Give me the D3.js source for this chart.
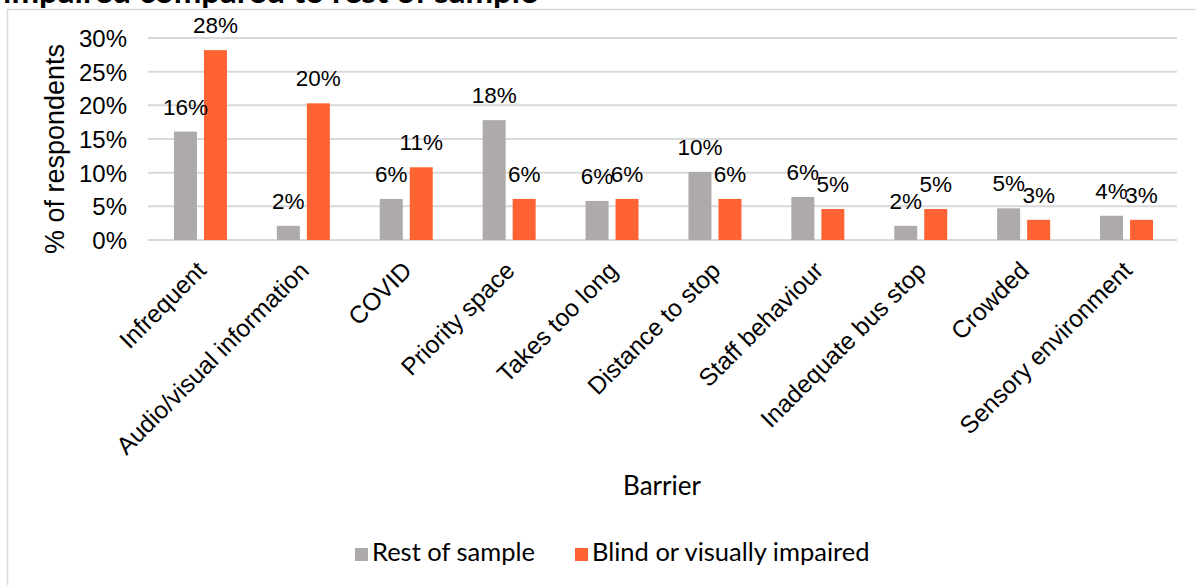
<!DOCTYPE html>
<html>
<head>
<meta charset="utf-8">
<script src="https://cdn.jsdelivr.net/npm/d3@7"></script>
<style>
  html, body { margin: 0; padding: 0; background: #fff; }
  svg { display: block; }
</style>
</head>
<body>
<svg id="chart" width="1196" height="585"></svg>
<script>
const titleText = "impaired compared to rest of sample";
const categories = ["Infrequent", "Audio/visual information", "COVID", "Priority space", "Takes too long",
  "Distance to stop", "Staff behaviour", "Inadequate bus stop", "Crowded", "Sensory environment"];
const seriesNames = ["Rest of sample", "Blind or visually impaired"];
const restValues  = [16.1, 2.1, 6.1, 17.8, 5.8, 10.1, 6.4, 2.1, 4.7, 3.6];
const blindValues = [28.2, 20.3, 10.8, 6.1, 6.1, 6.1, 4.6, 4.6, 3.0, 3.0];
const yTicks = [0, 5, 10, 15, 20, 25, 30];
const seriesColors = ["#AEAAAA", "#FF6333"];
const xAxisTitle = "Barrier";
const yAxisTitle = "% of respondents";

const svg = d3.select("#chart");
const W = 1196, H = 585;
const plot = { left: 148, right: 1177, top: 38, bottom: 240 };

// frame
svg.append("path")
  .attr("d", `M7.5,${H} L7.5,9.5 L${W},9.5`)
  .attr("fill", "none").attr("stroke", "#D9D9D9").attr("stroke-width", 1.5);

// title (partially cut off at top)
svg.append("text")
  .attr("x", 3).attr("y", 3)
  .attr("font-family", "Lato, 'Liberation Sans', sans-serif")
  .attr("font-weight", "bold").attr("font-size", 33)
  .attr("fill", "#000")
  .text(titleText);

const y = d3.scaleLinear().domain([0, 30]).range([plot.bottom, plot.top]);
const x0 = d3.scaleBand().domain(categories).range([plot.left + 1, plot.right + 1]).padding(0);
const x1 = d3.scaleBand().domain(seriesNames).range([0, 53]).paddingInner(7 / 30);

// gridlines
svg.append("g").selectAll("line").data(yTicks).join("line")
  .attr("x1", plot.left).attr("x2", plot.right)
  .attr("y1", d => y(d)).attr("y2", d => y(d))
  .attr("stroke", "#D9D9D9").attr("stroke-width", 2);

// y tick labels
const yAxis = d3.axisLeft(y).tickValues(yTicks).tickFormat(d => d + "%").tickSize(0).tickPadding(0);
const yg = svg.append("g").attr("transform", `translate(127,0)`).call(yAxis);
yg.select(".domain").remove();
yg.selectAll("text")
  .attr("font-family", "'Liberation Sans', Arial, sans-serif")
  .attr("font-size", 24).attr("fill", "#000").attr("dy", "0.36em");

// y axis title
svg.append("text")
  .attr("transform", `translate(64,149) rotate(-90)`)
  .attr("text-anchor", "middle")
  .attr("font-family", "'Liberation Sans', Arial, sans-serif")
  .attr("font-size", 27).attr("fill", "#000")
  .text(yAxisTitle);

// bars
const data = categories.map((c, i) => ({ cat: c, vals: [restValues[i], blindValues[i]] }));
const groups = svg.append("g").selectAll("g").data(data).join("g")
  .attr("transform", d => `translate(${x0(d.cat) + (x0.bandwidth() - 53) / 2},0)`);

groups.selectAll("rect").data(d => d.vals.map((v, j) => ({ v, s: seriesNames[j], j }))).join("rect")
  .attr("x", d => x1(d.s)).attr("width", x1.bandwidth())
  .attr("y", d => y(d.v)).attr("height", d => y(0) - y(d.v))
  .attr("fill", d => seriesColors[d.j]);

groups.selectAll("text.lbl").data(d => d.vals.map((v, j) => ({ v, s: seriesNames[j], j }))).join("text")
  .attr("class", "lbl")
  .attr("x", d => x1(d.s) + x1.bandwidth() / 2)
  .attr("y", d => y(d.v) - 17)
  .attr("text-anchor", "middle")
  .attr("font-family", "'Liberation Sans', Arial, sans-serif")
  .attr("font-size", 22.5).attr("fill", "#000")
  .text(d => Math.round(d.v) + "%");

// x tick labels
svg.append("g").selectAll("text").data(categories).join("text")
  .attr("transform", d => `translate(${x0(d) + x0.bandwidth() / 2 + 7},272) rotate(-45)`)
  .attr("text-anchor", "end")
  .attr("font-family", "'Liberation Sans', Arial, sans-serif")
  .attr("font-size", 24.5).attr("fill", "#000")
  .text(d => d);

// x axis title
svg.append("text")
  .attr("x", 662).attr("y", 495)
  .attr("text-anchor", "middle")
  .attr("font-family", "Lato, sans-serif")
  .attr("font-size", 26).attr("fill", "#000")
  .text(xAxisTitle);

// legend
const legend = svg.append("g");
const legendItems = [{ name: seriesNames[0], x: 355 }, { name: seriesNames[1], x: 575 }];
legendItems.forEach((it, i) => {
  legend.append("rect").attr("x", it.x).attr("y", 548).attr("width", 13).attr("height", 13)
    .attr("fill", seriesColors[i]);
  legend.append("text").attr("x", it.x + 17).attr("y", 561)
    .attr("font-family", "Lato, sans-serif").attr("font-size", 25.5).attr("fill", "#000")
    .text(it.name);
});
</script>
</body>
</html>
